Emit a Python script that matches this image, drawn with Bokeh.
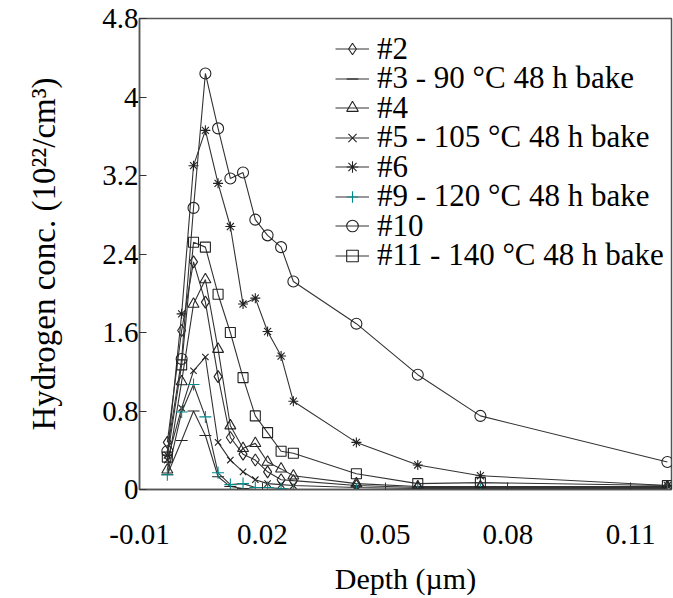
from bokeh.plotting import figure
from bokeh.models import Range1d, FixedTicker, Legend, LegendItem
from bokeh.embed import file_html
from bokeh.resources import INLINE

# ---- data ----
depth = [-0.0032, 0.0003, 0.0032, 0.0061, 0.0092, 0.0122, 0.0153, 0.0183,
         0.0213, 0.0246, 0.0276, 0.043, 0.058, 0.0733, 0.119]

s2 = [0.48, 1.62, 2.32, 1.91, 1.15, 0.53, 0.36, 0.30, 0.18, 0.10, 0.09, 0.04, 0.02, 0.02, 0.02]
s3 = [0.15, 0.50, 0.80, 0.55, 0.13, 0.03, 0.01, 0.0, 0.0, 0.0, 0.0, 0.0, 0.0, 0.0, 0.0]
s4 = [0.20, 1.10, 1.89, 2.14, 1.43, 0.65, 0.42, 0.47, 0.28, 0.21, 0.14, 0.06, 0.03, 0.03, 0.03]
s5 = [0.30, 0.83, 1.21, 1.35, 0.48, 0.30, 0.18, 0.10, 0.06, 0.05, 0.04, 0.02, 0.01, 0.01, 0.01]
s6 = [0.35, 1.79, 3.30, 3.66, 3.12, 2.68, 1.89, 1.95, 1.61, 1.36, 0.90, 0.48, 0.25, 0.14, 0.04]
s9 = [0.15, 0.79, 1.07, 0.74, 0.17, 0.05, 0.06, 0.02, 0.02, 0.01, 0.0, 0.0, 0.0, 0.0, 0.0]
s10 = [0.39, 1.33, 2.87, 4.24, 3.68, 3.17, 3.23, 2.75, 2.59, 2.47, 2.12, 1.69, 1.17, 0.75, 0.28]
s11 = [0.33, 1.27, 2.52, 2.47, 1.99, 1.60, 1.14, 0.75, 0.58, 0.39, 0.37, 0.16, 0.06, 0.07, 0.04]

labels = ["#2", "#3 - 90 \u00b0C 48 h bake", "#4", "#5 - 105 \u00b0C 48 h bake",
          "#6", "#9 - 120 \u00b0C 48 h bake", "#10", "#11 - 140 \u00b0C 48 h bake"]
values = [s2, s3, s4, s5, s6, s9, s10, s11]
markers = ["diamond", "dash", "triangle", "x", "asterisk", "cross", "circle", "square"]

x_ticks = [-0.01, 0.02, 0.05, 0.08, 0.11]
x_tick_labels = ["-0.01", "0.02", "0.05", "0.08", "0.11"]
y_ticks = [0, 0.8, 1.6, 2.4, 3.2, 4.0, 4.8]
y_tick_labels = ["0", "0.8", "1.6", "2.4", "3.2", "4", "4.8"]

# ---- styling ----
FONT = "Liberation Serif"
marker_size = {"diamond": 12, "dash": 12, "triangle": 11, "x": 9,
               "asterisk": 10, "cross": 12, "circle": 11, "square": 10}
marker_color = {"cross": "#008b8b"}

p = figure(width=673, height=598, output_backend="svg", toolbar_location=None,
           x_range=Range1d(-0.01, 0.12), y_range=Range1d(0, 4.8),
           min_border_left=139, min_border_top=18, min_border_bottom=109,
           min_border_right=2)

p.xgrid.visible = False
p.ygrid.visible = False
p.outline_line_color = "#555555"
p.outline_line_width = 1.5
p.background_fill_color = "white"

items = []
for lab, vals, mk in zip(labels, values, markers):
    ln = p.line(depth, vals, line_color="#333333", line_width=1.1)
    sc = p.scatter(depth, vals, marker=mk, size=marker_size[mk],
                   line_color=marker_color.get(mk, "#222222"), line_width=1.1,
                   fill_color=None)
    items.append(LegendItem(label=lab, renderers=[ln, sc]))

for ax in (p.xaxis[0], p.yaxis[0]):
    ax.major_label_text_font = FONT
    ax.major_label_text_font_size = "29px"
    ax.major_label_text_color = "black"
    ax.axis_label_text_font = FONT
    ax.axis_label_text_font_size = "30px"
    ax.axis_label_text_font_style = "normal"
    ax.axis_label_text_color = "black"
    ax.major_tick_in = 7
    ax.major_tick_out = 0
    ax.minor_tick_line_color = None
    ax.axis_line_color = "#555555"
    ax.axis_line_width = 1.5
    ax.major_tick_line_color = "#333333"

p.yaxis.axis_label_text_font_size = "33px"

p.xaxis.ticker = FixedTicker(ticks=x_ticks)
p.xaxis.major_label_overrides = dict(zip(x_ticks, x_tick_labels))
p.yaxis.ticker = FixedTicker(ticks=y_ticks)
p.yaxis.major_label_overrides = dict(zip(y_ticks, y_tick_labels))

p.xaxis.axis_label = "Depth (\u00b5m)"
p.yaxis.axis_label = "Hydrogen conc. (10\u00b2\u00b2/cm\u00b3)"
p.xaxis.major_label_standoff = 35
p.xaxis.axis_label_standoff = 15
p.yaxis.major_label_standoff = 1
p.yaxis.axis_label_standoff = 37

# one single-entry legend per row, so the rows can sit as tightly as in the reference
row_top = 47.0
row_step = 29.5
for i, it in enumerate(items):
    yc = row_top + row_step * i
    lg = Legend(items=[it], location=(196, 469.25 - yc))
    lg.label_text_font = FONT
    lg.label_text_font_size = "31px"
    lg.label_text_color = "black"
    lg.padding = 0
    lg.margin = 0
    lg.spacing = 0
    lg.label_height = 29
    lg.glyph_height = 29
    lg.glyph_width = 34
    lg.label_standoff = 8
    lg.border_line_color = None
    lg.background_fill_alpha = 0
    p.add_layout(lg)

open("out.html", "w").write(file_html(p, INLINE))
